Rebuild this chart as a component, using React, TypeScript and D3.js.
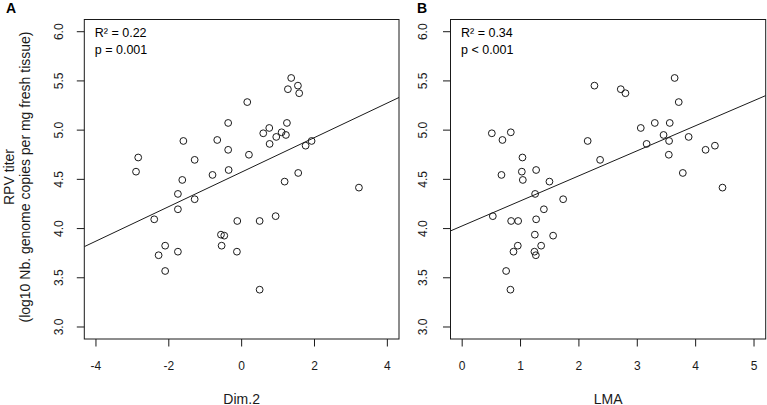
import React from "react";
import * as d3 from "d3";

// RPV titer (shared y values), paired with Dim.2 (panel A) and LMA (panel B)
const titer = [5.53, 5.452, 5.416, 5.375, 5.285, 5.073, 5.073, 5.022, 4.968, 4.978, 4.951, 4.931, 4.89, 4.89, 4.9, 4.86, 4.842, 4.8, 4.75, 4.722, 4.698, 4.595, 4.578, 4.565, 4.545, 4.494, 4.477, 4.416, 4.352, 4.298, 4.196, 4.126, 4.094, 4.077, 4.077, 3.938, 3.928, 3.826, 3.826, 3.765, 3.765, 3.729, 3.569, 3.379];
const dim2 = [1.36, 1.545, 1.27, 1.58, 0.154, -0.37, 1.243, 0.758, 0.593, 1.097, 1.215, 0.95, -1.6, 1.92, -0.67, 0.768, 1.756, -0.37, 0.2, -2.84, -1.29, -0.357, -2.9, 1.553, -0.8, -1.63, 1.18, 3.22, -1.75, -1.29, -1.75, 0.933, -2.4, -0.12, 0.494, -0.568, -0.477, -2.1, -0.55, -1.75, -0.13, -2.28, -2.1, 0.494];
const lma = [3.64, 2.266, 2.717, 2.797, 3.71, 3.3, 3.556, 3.06, 0.508, 0.833, 3.45, 3.88, 3.545, 2.15, 0.69, 3.16, 4.33, 4.17, 3.54, 1.033, 2.363, 1.267, 1.022, 3.78, 0.673, 1.039, 1.495, 4.46, 1.25, 1.73, 1.4, 0.525, 1.267, 0.839, 0.959, 1.245, 1.558, 0.953, 1.353, 0.879, 1.238, 1.262, 0.753, 0.827];

const xTicksA = [-4, -2, 0, 2, 4];
const xTicksB = [0, 1, 2, 3, 4, 5];
const yTicks = [3.0, 3.5, 4.0, 4.5, 5.0, 5.5, 6.0];

// fitted regression lines (intercept, slope)
const fitA = { a: 4.574, b: 0.1754 };
const fitB = { a: 4.027, b: 0.2546 };

const statsA = ["R\u00b2 = 0.22", "p = 0.001"];
const statsB = ["R\u00b2 = 0.34", "p < 0.001"];

const FONT = "'Liberation Sans', Arial, Helvetica, sans-serif";
const INK = "#1a1a1a";

const yScale = d3.scaleLinear().domain([2.878, 6.124]).range([339, 19.5]);

function Panel({ id, xs, xDomain, xRange, xTicks, fit, stats, label, letter, letterX, yLabelX }) {
  const x = d3.scaleLinear().domain(xDomain).range(xRange);
  const [y0, y1] = yScale.range();
  const left = xRange[0], right = xRange[1];
  const line = d3.line<number>().x((v) => x(v)).y((v) => yScale(fit.a + fit.b * v));
  return (
    <g>
      <defs>
        <clipPath id={"clip" + id}>
          <rect x={left} y={y1} width={right - left} height={y0 - y1} />
        </clipPath>
      </defs>
      <text x={letterX} y={13} fontSize={14} fontWeight="bold" fill="#000" fontFamily={FONT}>{letter}</text>
      <rect x={left} y={y1} width={right - left} height={y0 - y1} fill="none" stroke={INK} strokeWidth={1} />
      {/* y axis */}
      {yTicks.map((t) => (
        <g key={"y" + t}>
          <line x1={left - 7.5} x2={left} y1={yScale(t)} y2={yScale(t)} stroke={INK} strokeWidth={1} />
          <text transform={`translate(${yLabelX},${yScale(t)}) rotate(-90)`} textAnchor="middle" fontSize={12} fill={INK} fontFamily={FONT}>{t.toFixed(1)}</text>
        </g>
      ))}
      {/* x axis */}
      {xTicks.map((t) => (
        <g key={"x" + t}>
          <line x1={x(t)} x2={x(t)} y1={y0} y2={y0 + 7.5} stroke={INK} strokeWidth={1} />
          <text x={x(t)} y={370} textAnchor="middle" fontSize={12} fill={INK} fontFamily={FONT}>{t}</text>
        </g>
      ))}
      <text x={(left + right) / 2} y={403.5} textAnchor="middle" fontSize={14} fill={INK} fontFamily={FONT}>{label}</text>
      {/* regression */}
      <path d={line(xDomain) || ""} fill="none" stroke={INK} strokeWidth={1} clipPath={`url(#clip${id})`} />
      {/* points */}
      {xs.map((v, i) => (
        <circle key={i} cx={x(v)} cy={yScale(titer[i])} r={3.4} fill="none" stroke={INK} strokeWidth={1} />
      ))}
      {/* stats */}
      <text x={left + 10.5} y={36.5} fontSize={12.5} fill="#000" fontFamily={FONT}>{stats[0]}</text>
      <text x={left + 10.5} y={53.5} fontSize={12.5} fill="#000" fontFamily={FONT}>{stats[1]}</text>
    </g>
  );
}

export default function App() {
  return (
    <svg width={767} height={405} style={{ display: "block", position: "absolute", left: 0, top: 0, background: "#fff" }}>
      <rect width={767} height={405} fill="#fff" />
      <g transform="translate(0,177)" fontFamily={FONT} fontSize={14} fill={INK} textAnchor="middle">
        <text transform="translate(14,0) rotate(-90)">RPV titer</text>
        <text transform="translate(30,0) rotate(-90)">(log10 Nb. genome copies per mg fresh tissue)</text>
      </g>
      <Panel id="A" xs={dim2} xDomain={[-4.32, 4.32]} xRange={[84.3, 399]} xTicks={xTicksA} fit={fitA} stats={statsA} label="Dim.2" letter="A" letterX={6} yLabelX={63} />
      <Panel id="B" xs={lma} xDomain={[-0.2, 5.2]} xRange={[450.5, 765.7]} xTicks={xTicksB} fit={fitB} stats={statsB} label="LMA" letter="B" letterX={417} yLabelX={427} />
    </svg>
  );
}
